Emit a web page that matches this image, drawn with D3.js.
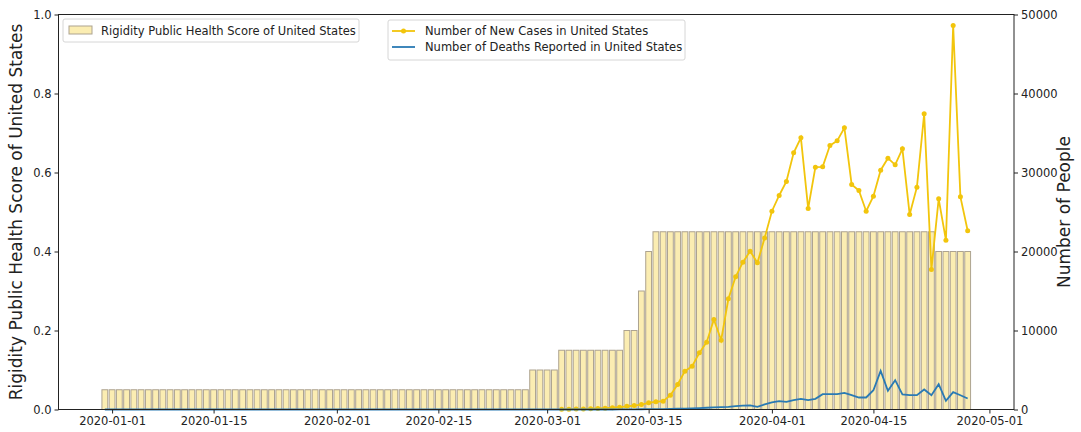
<!DOCTYPE html>
<html lang="en">
<head>
<meta charset="UTF-8">
<title>Rigidity vs cases</title>
<script src="https://d3js.org/d3.v7.min.js"></script>
<style>
    body { margin: 0; background: #fff; }
    text { font-family: "DejaVu Sans", sans-serif; fill: #222; }
</style>
</head>
<body>
<div id="graph"></div>
<script>
// first bar date, one bar per day
const barStart = "2019-12-31";
const scoreValues = [
    0.05, 0.05, 0.05, 0.05, 0.05, 0.05, 0.05, 0.05, 0.05, 0.05,
    0.05, 0.05, 0.05, 0.05, 0.05, 0.05, 0.05, 0.05, 0.05, 0.05,
    0.05, 0.05, 0.05, 0.05, 0.05, 0.05, 0.05, 0.05, 0.05, 0.05,
    0.05, 0.05, 0.05, 0.05, 0.05, 0.05, 0.05, 0.05, 0.05, 0.05,
    0.05, 0.05, 0.05, 0.05, 0.05, 0.05, 0.05, 0.05, 0.05, 0.05,
    0.05, 0.05, 0.05, 0.05, 0.05, 0.05, 0.05, 0.05, 0.05,
    0.1, 0.1, 0.1, 0.1,
    0.15, 0.15, 0.15, 0.15, 0.15, 0.15, 0.15, 0.15, 0.15,
    0.2, 0.2, 0.3, 0.4,
    0.45, 0.45, 0.45, 0.45, 0.45, 0.45, 0.45, 0.45, 0.45, 0.45,
    0.45, 0.45, 0.45, 0.45, 0.45, 0.45, 0.45, 0.45, 0.45, 0.45,
    0.45, 0.45, 0.45, 0.45, 0.45, 0.45, 0.45, 0.45, 0.45, 0.45,
    0.45, 0.45, 0.45, 0.45, 0.45, 0.45, 0.45, 0.45, 0.45,
    0.4, 0.4, 0.4, 0.4, 0.4
];

// new cases, daily from 2020-03-03
const caseStart = "2020-03-03";
const caseValues = [
    20, 30, 50, 70, 100, 130, 170, 220, 300, 400,
    500, 630, 850, 980, 1050, 1810, 3160, 4850, 5480, 7170,
    8520, 11390, 8770, 14010, 16800, 18650, 20040, 18570, 21700, 25100,
    27090, 28860, 32490, 34390, 25440, 30670, 30720, 33420, 34010, 35660,
    28480, 27720, 25100, 27000, 30290, 31810, 30970, 33000, 24680, 28140,
    37430, 17720, 26670, 21430, 48610, 26920, 22620
];

// deaths, daily from 2019-12-31
const deathStart = "2019-12-31";
const deathValues = [
    0, 0, 0, 0, 0, 0, 0, 0, 0, 0, 0, 0, 0, 0, 0, 0, 0, 0, 0, 0,
    0, 0, 0, 0, 0, 0, 0, 0, 0, 0, 0, 0, 0, 0, 0, 0, 0, 0, 0, 0,
    0, 0, 0, 0, 0, 0, 0, 0, 0, 0, 0, 0, 0, 0, 0, 0, 0, 0, 0, 0,
    0, 0, 0, 0, 0, 0, 0, 0, 0, 0, 0,
    10, 10, 20, 30, 40, 50, 60, 80, 100, 120,
    150, 180, 220, 260, 300, 340, 420, 500, 520, 330,
    650, 900, 1050, 960, 1180, 1350, 1180, 1350, 1940, 1940,
    1940, 2110, 1810, 1520, 1520, 2440, 4890, 2360, 3710, 1900,
    1810, 1810, 2530, 1810, 3200, 1090, 2190, 1810, 1390
];

const dateTicks = ["2020-01-01", "2020-01-15", "2020-02-01", "2020-02-15",
    "2020-03-01", "2020-03-15", "2020-04-01", "2020-04-15", "2020-05-01"];
const leftTicks = [0, 0.2, 0.4, 0.6, 0.8, 1.0];
const rightTicks = [0, 10000, 20000, 30000, 40000, 50000];

const width = 1081, height = 432;
const mLeft = 58.5, mRight = 1014, mTop = 14.5, mBottom = 409.5;

const parse = d3.utcParse("%Y-%m-%d");
const fmt = d3.utcFormat("%Y-%m-%d");
const day = (s, i) => d3.utcDay.offset(parse(s), i);

const bars = scoreValues.map((v, i) => ({ date: day(barStart, i), v: v }));
const cases = caseValues.map((v, i) => ({ date: day(caseStart, i), v: v }));
const deaths = deathValues.map((v, i) => ({ date: day(deathStart, i), v: v }));

// matplotlib style: bar edges +- 0.4 day, 5% margins
const DAY = 864e5;
const x0 = +bars[0].date - 0.4 * DAY, x1 = +bars[bars.length - 1].date + 0.4 * DAY;
const pad = (x1 - x0) * 0.05;
const x = d3.scaleUtc().domain([new Date(x0 - pad), new Date(x1 + pad)]).range([mLeft, mRight]);
const y = d3.scaleLinear().domain([0, 1]).range([mBottom, mTop]);
const y2 = d3.scaleLinear().domain([0, 50000]).range([mBottom, mTop]);

const svg = d3.select("#graph").append("svg")
    .attr("width", width).attr("height", height);

// bars
const bw = x(new Date(+bars[0].date + 0.8 * DAY)) - x(bars[0].date);
svg.append("g").selectAll("rect")
    .data(bars).enter().append("rect")
    .attr("x", d => x(d.date) - bw / 2)
    .attr("y", d => y(d.v))
    .attr("width", bw)
    .attr("height", d => y(0) - y(d.v))
    .attr("fill", "#fbedb2")
    .attr("stroke", "#ada390")
    .attr("stroke-width", 1);

// lines
const line = d3.line().x(d => x(d.date)).y(d => y2(d.v));
svg.append("path").datum(cases)
    .attr("d", line).attr("fill", "none")
    .attr("stroke", "#f2c50c").attr("stroke-width", 1.8);
svg.append("g").selectAll("circle")
    .data(cases).enter().append("circle")
    .attr("cx", d => x(d.date)).attr("cy", d => y2(d.v))
    .attr("r", 2.5).attr("fill", "#f2c50c");
svg.append("path").datum(deaths)
    .attr("d", line).attr("fill", "none")
    .attr("stroke", "#2a7ab4").attr("stroke-width", 1.8);

// axes
const xAxis = d3.axisBottom(x).tickValues(dateTicks.map(parse))
    .tickFormat(fmt).tickSizeOuter(0).tickSize(4).tickPadding(3);
const yAxis = d3.axisLeft(y).tickValues(leftTicks)
    .tickFormat(d3.format(".1f")).tickSizeOuter(0).tickSize(4).tickPadding(3);
const yAxis2 = d3.axisRight(y2).tickValues(rightTicks)
    .tickFormat(d3.format("d")).tickSizeOuter(0).tickSize(4).tickPadding(3);

svg.append("g").attr("transform", "translate(0," + mBottom + ")").call(xAxis);
svg.append("g").attr("transform", "translate(" + mLeft + ",0)").call(yAxis);
svg.append("g").attr("transform", "translate(" + mRight + ",0)").call(yAxis2);
svg.selectAll(".tick text").attr("font-size", 11.5).attr("font-family", "DejaVu Sans").attr("fill", "#222");
svg.selectAll(".tick line").attr("stroke", "#222");
svg.selectAll(".domain").remove();

// frame
svg.append("rect")
    .attr("x", mLeft).attr("y", mTop)
    .attr("width", mRight - mLeft).attr("height", mBottom - mTop)
    .attr("fill", "none").attr("stroke", "#222").attr("stroke-width", 1);

// axis labels
svg.append("text")
    .attr("transform", "translate(22," + (mTop + mBottom) / 2 + ") rotate(-90)")
    .attr("text-anchor", "middle").attr("font-size", 17)
    .text("Rigidity Public Health Score of United States");
svg.append("text")
    .attr("transform", "translate(1070," + (mTop + mBottom) / 2 + ") rotate(-90)")
    .attr("text-anchor", "middle").attr("font-size", 17)
    .text("Number of People");

// legend 1
const lg1 = svg.append("g").attr("transform", "translate(63,19)");
lg1.append("rect").attr("width", 296).attr("height", 23).attr("rx", 2)
    .attr("fill", "#fff").attr("fill-opacity", 0.8).attr("stroke", "#d6d6d6");
lg1.append("rect").attr("x", 6).attr("y", 7).attr("width", 23).attr("height", 8)
    .attr("fill", "#fbedb2").attr("stroke", "#ada390");
lg1.append("text").attr("x", 38).attr("y", 15.5).attr("font-size", 11.5)
    .text("Rigidity Public Health Score of United States");

// legend 2
const lg2 = svg.append("g").attr("transform", "translate(388,20)");
lg2.append("rect").attr("width", 297).attr("height", 40).attr("rx", 2)
    .attr("fill", "#fff").attr("fill-opacity", 0.8).attr("stroke", "#d6d6d6");
lg2.append("line").attr("x1", 4).attr("x2", 27).attr("y1", 11).attr("y2", 11)
    .attr("stroke", "#f2c50c").attr("stroke-width", 1.8);
lg2.append("circle").attr("cx", 15.5).attr("cy", 11).attr("r", 2.5).attr("fill", "#f2c50c");
lg2.append("text").attr("x", 37).attr("y", 15).attr("font-size", 11.5)
    .text("Number of New Cases in United States");
lg2.append("line").attr("x1", 4).attr("x2", 27).attr("y1", 27).attr("y2", 27)
    .attr("stroke", "#2a7ab4").attr("stroke-width", 1.8);
lg2.append("text").attr("x", 37).attr("y", 31).attr("font-size", 11.5)
    .text("Number of Deaths Reported in United States");
</script>
</body>
</html>
